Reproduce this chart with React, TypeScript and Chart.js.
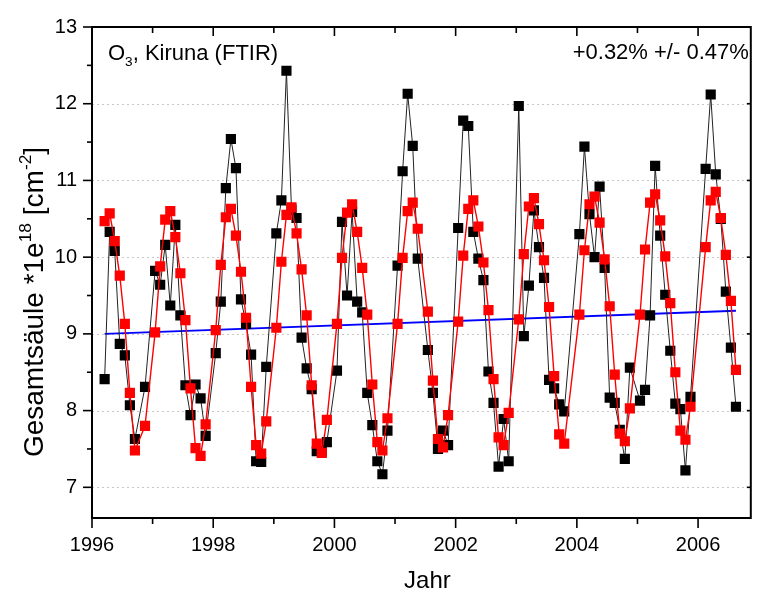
import React, { useEffect, useRef } from "react";
import { Chart, registerables } from "chart.js";

Chart.register(...registerables);

// ---------- data ----------
const months: string[] = [
  "1996-03", "1996-04", "1996-05", "1996-06", "1996-07", "1996-08", "1996-09", "1996-11",
  "1997-01", "1997-02", "1997-03", "1997-04", "1997-05", "1997-06", "1997-07", "1997-08", "1997-09", "1997-10", "1997-11",
  "1998-01", "1998-02", "1998-03", "1998-04", "1998-05", "1998-06", "1998-07", "1998-08", "1998-09", "1998-10", "1998-11",
  "1999-01", "1999-02", "1999-03", "1999-04", "1999-05", "1999-06", "1999-07", "1999-08", "1999-09", "1999-10", "1999-11",
  "2000-01", "2000-02", "2000-03", "2000-04", "2000-05", "2000-06", "2000-07", "2000-08", "2000-09", "2000-10", "2000-11",
  "2001-01", "2001-02", "2001-03", "2001-04", "2001-05", "2001-07", "2001-08", "2001-09", "2001-10", "2001-11",
  "2002-01", "2002-02", "2002-03", "2002-04", "2002-05", "2002-06", "2002-07", "2002-08", "2002-09", "2002-10", "2002-11",
  "2003-01", "2003-02", "2003-03", "2003-04", "2003-05", "2003-06", "2003-07", "2003-08", "2003-09", "2003-10",
  "2004-01", "2004-02", "2004-03", "2004-04", "2004-05", "2004-06", "2004-07", "2004-08", "2004-09", "2004-10", "2004-11",
  "2005-01", "2005-02", "2005-03", "2005-04", "2005-05", "2005-06", "2005-07", "2005-08", "2005-09", "2005-10", "2005-11",
  "2006-02", "2006-03", "2006-04", "2006-05", "2006-06", "2006-07", "2006-08",
];

const measuredValues: number[] = [
  8.41, 10.33, 10.08, 8.87, 8.72, 8.07, 7.63, 8.31,
  9.82, 9.64, 10.16, 9.37, 10.42, 9.24, 8.33, 7.94, 8.34, 8.16, 7.67,
  8.75, 9.42, 10.9, 11.54, 11.16, 9.45, 9.13, 8.73, 7.34, 7.33, 8.57,
  10.31, 10.74, 12.43, 10.62, 10.51, 8.95, 8.55, 8.28, 7.47, 7.47, 7.59,
  8.52, 10.46, 9.5, 10.59, 9.42, 9.28, 8.23, 7.81, 7.34, 7.17, 7.74,
  9.89, 11.12, 12.13, 11.45, 9.98, 8.79, 8.23, 7.5, 7.74, 7.55,
  10.38, 11.78, 11.71, 10.33, 9.98, 9.7, 8.51, 8.1, 7.27, 7.89, 7.34,
  11.97, 8.97, 9.63, 10.61, 10.13, 9.73, 8.4, 8.29, 8.08, 7.99,
  10.3, 11.44, 10.56, 10.0, 10.92, 9.86, 8.17, 8.1, 7.75, 7.37, 8.56,
  8.13, 8.27, 9.24, 11.19, 10.28, 9.51, 8.78, 8.09, 8.02, 7.22, 8.18,
  11.15, 12.12, 11.08, 10.5, 9.55, 8.82, 8.05,
];

const fitValues: number[] = [
  10.47, 10.57, 10.21, 9.76, 9.13, 8.23, 7.48, 7.8,
  9.02, 9.88, 10.49, 10.6, 10.26, 9.79, 9.18, 8.29, 7.51, 7.41, 7.82,
  9.05, 9.9, 10.52, 10.63, 10.28, 9.81, 9.21, 8.31, 7.55, 7.44, 7.86,
  9.08, 9.94, 10.55, 10.65, 10.31, 9.84, 9.24, 8.33, 7.57, 7.45, 7.88,
  9.13, 9.99, 10.58, 10.69, 10.33, 9.86, 9.25, 8.34, 7.59, 7.48, 7.9,
  9.13, 9.99, 10.6, 10.71, 10.37, 9.29, 8.39, 7.63, 7.52, 7.94,
  9.16, 10.02, 10.63, 10.74, 10.4, 9.93, 9.31, 8.41, 7.65, 7.55, 7.97,
  9.19, 10.04, 10.66, 10.77, 10.43, 9.96, 9.35, 8.45, 7.69, 7.57,
  9.25, 10.09, 10.69, 10.79, 10.45, 9.97, 9.36, 8.47, 7.7, 7.6, 8.03,
  9.25, 10.1, 10.71, 10.82, 10.48, 10.01, 9.4, 8.5, 7.74, 7.62, 8.05,
  10.13, 10.74, 10.85, 10.51, 10.03, 9.43, 8.53,
];

const trendMonths: string[] = ["1996-03", "2006-08"];
const trendValues: number[] = [9.0, 9.3];

const xTicks: number[] = [1996, 1998, 2000, 2002, 2004, 2006];
const yTicks: number[] = [7, 8, 9, 10, 11, 12, 13];

const xTitle = "Jahr";
const yTitleParts: [string, number, number][] = [
  ["Gesamtsäule *1e", 1, 0],
  ["18", 0.62, -0.42],
  [" [cm", 1, 0],
  ["-2", 0.62, -0.42],
  ["]", 1, 0],
];
const leftLabelParts: [string, number, number][] = [
  ["O", 1, 0],
  ["3", 0.62, 0.28],
  [", Kiruna (FTIR)", 1, 0],
];
const rightLabel = "+0.32% +/- 0.47%";

// ---------- helpers ----------
const FAMILY = '"Liberation Sans", Arial, Helvetica, sans-serif';

function toYear(m: string): number {
  const [y, mo] = m.split("-").map(Number);
  return y + (mo - 0.5) / 12;
}

function drawRich(
  ctx: CanvasRenderingContext2D,
  parts: [string, number, number][],
  x: number,
  y: number,
  size: number,
  align: "left" | "center" | "right"
) {
  ctx.textAlign = "left";
  ctx.textBaseline = "alphabetic";
  let total = 0;
  const widths: number[] = [];
  for (const p of parts) {
    ctx.font = `${size * p[1]}px ${FAMILY}`;
    const w = ctx.measureText(p[0]).width;
    widths.push(w);
    total += w;
  }
  let cx = align === "center" ? x - total / 2 : align === "right" ? x - total : x;
  parts.forEach((p, i) => {
    ctx.font = `${size * p[1]}px ${FAMILY}`;
    ctx.fillText(p[0], cx, y + p[2] * size);
    cx += widths[i];
  });
}

const decorPlugin = {
  id: "decor",
  beforeDatasetsDraw(chart: any) {
    const { ctx, chartArea: a, scales } = chart;
    const y = scales.y;
    ctx.save();
    ctx.strokeStyle = "#c8c8c8";
    ctx.lineWidth = 1;
    ctx.setLineDash([2, 3]);
    for (const v of yTicks) {
      if (v >= y.max) continue;
      const py = Math.round(y.getPixelForValue(v)) + 0.5;
      ctx.beginPath();
      ctx.moveTo(a.left, py);
      ctx.lineTo(a.right, py);
      ctx.stroke();
    }
    ctx.restore();
  },
  afterDraw(chart: any) {
    const { ctx, chartArea: a, scales } = chart;
    const x = scales.x;
    const y = scales.y;
    ctx.save();
    ctx.setLineDash([]);
    ctx.strokeStyle = "#000";
    ctx.fillStyle = "#000";
    ctx.lineWidth = 2;
    ctx.strokeRect(a.left, a.top, a.right - a.left, a.bottom - a.top);

    const line = (x1: number, y1: number, x2: number, y2: number) => {
      ctx.beginPath();
      ctx.moveTo(x1, y1);
      ctx.lineTo(x2, y2);
      ctx.stroke();
    };
    ctx.lineWidth = 1.6;
    // y ticks
    const yMinor: number[] = [];
    for (let i = 0; i < yTicks.length - 1; i++) yMinor.push((yTicks[i] + yTicks[i + 1]) / 2);
    for (const v of yTicks) {
      const py = y.getPixelForValue(v);
      line(a.left, py, a.left - 9, py);
      if (v < y.max) line(a.right, py, a.right - 4, py);
    }
    for (const v of yMinor) {
      const py = y.getPixelForValue(v);
      line(a.left, py, a.left - 5, py);
    }
    // x ticks
    const xMinor: number[] = [];
    for (let i = 0; i < xTicks.length - 1; i++) xMinor.push((xTicks[i] + xTicks[i + 1]) / 2);
    for (const v of xTicks) {
      const px = x.getPixelForValue(v);
      line(px, a.bottom, px, a.bottom + 10);
      if (v > x.min) line(px, a.top, px, a.top + 9);
    }
    for (const v of xMinor) {
      const px = x.getPixelForValue(v);
      line(px, a.bottom, px, a.bottom + 6);
      line(px, a.top, px, a.top + 6);
    }

    // annotations
    drawRich(ctx, leftLabelParts, a.left + 16, a.top + 33, 22, "left");
    ctx.font = `22px ${FAMILY}`;
    ctx.textAlign = "right";
    ctx.textBaseline = "alphabetic";
    ctx.fillText(rightLabel, a.right - 2, a.top + 32);

    // axis titles
    ctx.font = `24px ${FAMILY}`;
    ctx.textAlign = "center";
    ctx.fillText(xTitle, (a.left + a.right) / 2 + 6, 588);

    ctx.save();
    ctx.translate(43, 302);
    ctx.rotate(-Math.PI / 2);
    drawRich(ctx, yTitleParts, 0, 0, 28, "center");
    ctx.restore();

    ctx.restore();
  },
};

export default function App() {
  const ref = useRef<HTMLCanvasElement>(null);

  useEffect(() => {
    const canvas = ref.current;
    if (!canvas) return;
    const redData = months.map((m, i) => ({ x: toYear(m), y: fitValues[i] }));
    const blackData = months.map((m, i) => ({ x: toYear(m), y: measuredValues[i] }));
    const trendData = trendMonths.map((m, i) => ({ x: toYear(m), y: trendValues[i] }));

    const chart = new Chart(canvas, {
      type: "line",
      data: {
        datasets: [
          {
            label: "Fit",
            data: redData,
            borderColor: "#ff0000",
            backgroundColor: "#ff0000",
            borderWidth: 1.4,
            pointStyle: "rect",
            pointRadius: 7.2,
            pointBorderWidth: 0,
            pointBackgroundColor: "#ff0000",
            pointBorderColor: "#ff0000",
            tension: 0,
            order: 0,
          },
          {
            label: "FTIR",
            data: blackData,
            borderColor: "#222222",
            backgroundColor: "#000000",
            borderWidth: 1,
            pointStyle: "rect",
            pointRadius: 7.2,
            pointBorderWidth: 0,
            pointBackgroundColor: "#000000",
            pointBorderColor: "#000000",
            tension: 0,
            order: 1,
          },
          {
            label: "Trend",
            data: trendData,
            borderColor: "#0000ff",
            backgroundColor: "#0000ff",
            borderWidth: 2,
            pointRadius: 0,
            tension: 0,
            order: 2,
          },
        ],
      } as any,
      options: {
        animation: false,
        responsive: false,
        devicePixelRatio: 1,
        layout: { padding: { top: 22, right: 1, left: 0, bottom: 0 } },
        plugins: {
          legend: { display: false },
          tooltip: { enabled: false },
          title: { display: false },
        },
        scales: {
          x: {
            type: "linear",
            min: 1996,
            max: 2006.87,
            grid: { display: false, drawTicks: false },
            border: { display: false },
            ticks: {
              color: "#000",
              font: { size: 20, family: FAMILY },
              padding: 15,
              autoSkip: false,
              maxRotation: 0,
              callback: (v: any) => String(v),
            },
            afterBuildTicks: (s: any) => {
              s.ticks = xTicks.map((v) => ({ value: v }));
            },
            afterFit: (s: any) => {
              s.height = 74;
            },
          },
          y: {
            type: "linear",
            min: 6.6,
            max: 13,
            grid: { display: false, drawTicks: false },
            border: { display: false },
            ticks: {
              color: "#000",
              font: { size: 20, family: FAMILY },
              padding: 15,
              callback: (v: any) => String(v),
            },
            afterBuildTicks: (s: any) => {
              s.ticks = yTicks.map((v) => ({ value: v }));
            },
            afterFit: (s: any) => {
              s.width = 92;
            },
          },
        },
      } as any,
      plugins: [decorPlugin],
    });
    return () => chart.destroy();
  }, []);

  return (
    <div style={{ position: "absolute", left: 0, top: 0, width: 758, height: 592, background: "#fff" }}>
      <canvas ref={ref} width={758} height={592} style={{ display: "block", width: 758, height: 592 }} />
    </div>
  );
}
